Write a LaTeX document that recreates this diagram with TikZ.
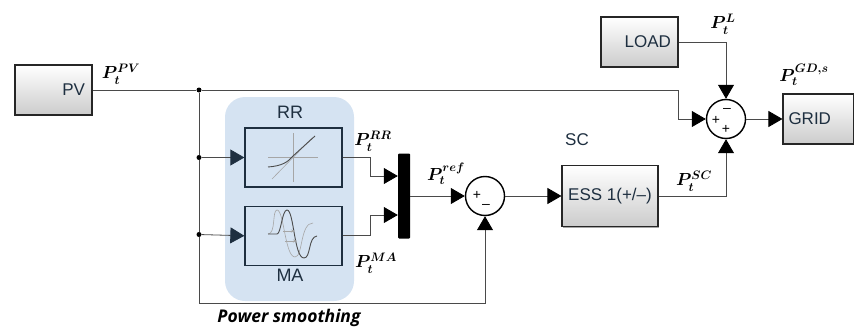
\documentclass[tikz,border=0pt]{standalone}
\usepackage{fix-cm}
\usepackage{amsmath}
\usepackage{fontspec}
\setmainfont{Liberation Sans}
\newfontfamily\captionfont{Open Sans}
\usepackage{tikz}
\usetikzlibrary{arrows.meta, positioning, shadows}
\definecolor{smoothblue}{HTML}{D5E3F2}
\definecolor{wirecol}{HTML}{4A4A4A}
\definecolor{navy}{HTML}{1E2F40}

\begin{document}
\begin{tikzpicture}[
    x=1pt, y=-1pt,
    every node/.style={font=\fontsize{17}{19}\selectfont, text=navy},
    simbox/.style={rectangle, draw=black!85, line width=1.1pt, top color=white, bottom color=black!20, drop shadow={shadow xshift=1pt, shadow yshift=-1pt, opacity=0.35, fill=black}},
    srcbox/.style={simbox, minimum width=77pt, minimum height=50pt, text width=63pt, inner xsep=7pt, align=right},
    blockbox/.style={rectangle, draw=navy, line width=1.3pt, fill=smoothblue, minimum width=97pt, minimum height=59pt},
    sumnode/.style={circle, draw=black, line width=1.4pt, fill=white, minimum size=39pt, inner sep=0pt, drop shadow={shadow xshift=0.6pt, shadow yshift=-0.6pt, opacity=0.3, fill=black}},
    signtext/.style={font=\fontsize{14}{14}\selectfont, inner sep=0pt, text=black},
    sigtext/.style={font=\fontsize{17.5}{20}\selectfont\boldmath, inner sep=0pt, text=black},
    dotnode/.style={circle, fill=black, inner sep=0pt, minimum size=5pt},
    wire/.style={draw=wirecol, line width=0.8pt},
    arr/.style={wire, -{Triangle[length=14pt, width=16pt, color=black]}},
    navyarr/.style={wire, -{Triangle[length=14pt, width=16pt, color=navy]}},
    iconlight/.style={draw=black!35, line width=0.6pt},
    icondark/.style={draw=black!70, line width=0.9pt}
]
\useasboundingbox (0,0) rectangle (854,329);

% Power smoothing group
\node[draw=none, fill=smoothblue, rounded corners=20pt, minimum width=129pt, minimum height=204pt] (group) at (289.5,199) {};
\node[blockbox] (rr) at (293.5,157.5) {};
\node[blockbox, below=18pt of rr] (ma) {};
\node[font=\fontsize{18}{20}\selectfont] (rrname) at (290,112) {RR};
\node[font=\fontsize{18}{20}\selectfont] (maname) at (290,275) {MA};
\node[font=\captionfont\fontsize{17.5}{19}\selectfont\bfseries\itshape, text=black] (smoothname) at (289,318) {Power smoothing};

% Source and sink blocks
\node[srcbox] (pv) at (53.5,90) {PV};
\node[srcbox] (load) at (639.5,42) {LOAD};
\node[simbox, minimum width=71pt, minimum height=50pt, text width=60pt, inner xsep=5.5pt, align=left] (grid) at (818.5,119) {GRID};
\node[simbox, minimum width=96pt, minimum height=61pt, inner sep=0pt] (ess) at (610,196) {ESS 1(+/--)};
\node (scname) at (577,140) {SC};

% Mux and sums
\node[rectangle, fill=black, rounded corners=1pt, minimum width=12pt, minimum height=85pt, inner sep=0pt] (mux) at (404,196) {};
\node[sumnode] (sumref) at (485,196) {};
\node[sumnode] (sumgrid) at (726,119) {};
\node[signtext] (refplus) at (477,195) {+};
\node[signtext] (refminus) at (486,206) {--};
\node[signtext] (gridplusa) at (716,120) {+};
\node[signtext] (gridminus) at (727,110) {--};
\node[signtext] (gridplusb) at (726,129) {+};

% Junctions
\node[dotnode] (jtop) at (199,90) {};
\node[dotnode] (jrr) at (199,157.5) {};
\node[dotnode] (jma) at (199,234.5) {};
\coordinate (topbend) at (678,90);
\coordinate (botbend) at (485,303);
\coordinate (rrbend) at (370,176);
\coordinate (mabend) at (370,215);

% Wires
\draw[wire] (pv.east) -- (jtop);
\draw[arr] (jtop) -- (topbend) |- (sumgrid.west);
\draw[wire] (jtop) -- (jrr);
\draw[wire] (jrr) -- (jma);
\draw[arr] (jma) |- (botbend) -- (sumref.south);
\draw[navyarr] (jrr) -- (rr.west);
\draw[navyarr] (jma) -- (ma.west);
\draw[arr] (rr.east) -| (rrbend) -- (rrbend -| mux.west);
\draw[arr] (ma.east) -| (mabend) -- (mabend -| mux.west);
\draw[arr] (mux.east) -- (sumref.west);
\draw[arr] (sumref.east) -- (ess.west);
\draw[arr] (ess.east) -| (sumgrid.south);
\draw[arr] (load.east) -| (sumgrid.north);
\draw[arr] (sumgrid.east) -- (grid.west);

% Signal labels
\node[sigtext] (ppv) at (121,74) {$P_t^{PV}$};
\node[sigtext] (prr) at (373,141) {$P_t^{RR}$};
\node[sigtext] (pma) at (376,263) {$P_t^{MA}$};
\node[sigtext] (pref) at (446,174) {$P_t^{ref}$};
\node[sigtext] (psc) at (694,181) {$P_t^{SC}$};
\node[sigtext] (pl) at (723,24) {$P_t^{L}$};
\node[sigtext] (pgd) at (804,75) {$P_t^{GD,s}$};

% Block icons
\draw[iconlight] (268,157) -- (318,157);
\draw[iconlight] (293,133) -- (293,182);
\draw[iconlight] (272,179) -- (312,138);
\draw[icondark] (268,167) .. controls (282,166) and (288,162) .. (293,156) -- (315,136);
\draw[iconlight] (268,234) .. controls (276,234) and (272,210) .. (277,210) .. controls (284,210) and (285,257) .. (295,257) .. controls (303,257) and (300,223) .. (313,223);
\draw[icondark] (268,234) -- (277,234) .. controls (281,234) and (282,210) .. (287,210) .. controls (294,210) and (294,258) .. (304,258) .. controls (311,258) and (308,237) .. (317,236);
\draw[iconlight, -{Stealth[length=4pt]}] (283,231) -- (295,231);
\draw[iconlight, -{Stealth[length=4pt]}] (285,241) -- (297,241);
\end{tikzpicture}
\end{document}
